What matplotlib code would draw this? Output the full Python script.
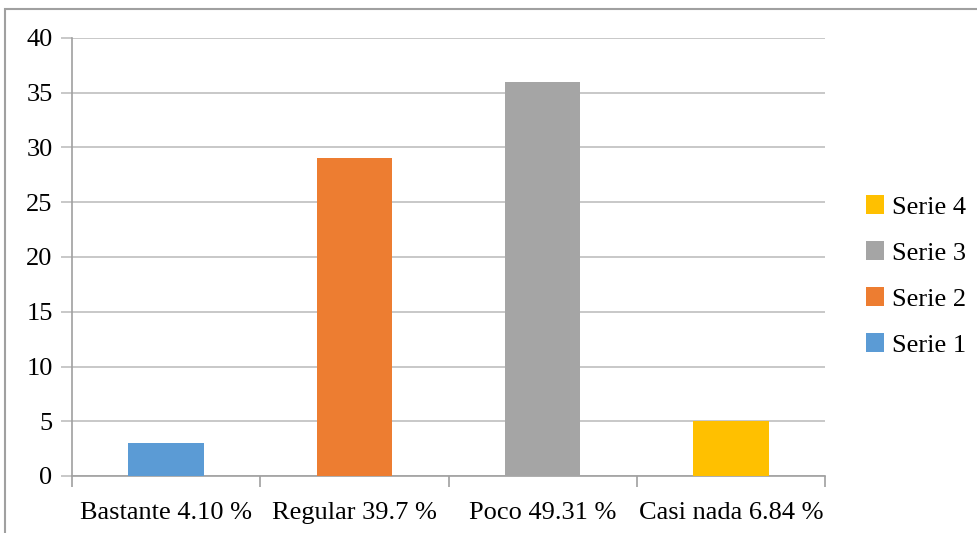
import matplotlib
matplotlib.use('Agg')
import matplotlib.pyplot as plt
from matplotlib.patches import Rectangle
import numpy as np

# data
categories = ['Bastante 4.10 %', 'Regular 39.7 %', 'Poco 49.31 %', 'Casi nada 6.84 %']
series_names = ['Serie 1', 'Serie 2', 'Serie 3', 'Serie 4']
values = [3, 29, 36, 5]
colors = ['#5B9BD5', '#ED7D31', '#A5A5A5', '#FFC000']
yticks = [0, 5, 10, 15, 20, 25, 30, 35, 40]

plt.rcParams['font.family'] = ['Liberation Serif', 'DejaVu Serif']

W, H = 977, 533
fig = plt.figure(figsize=(W / 100, H / 100), dpi=100)
ax = fig.add_axes([72 / W, 1 - 476 / H, (825 - 72) / W, (476 - 38) / H])

x = np.arange(len(categories))
for i in range(len(categories)):
    ax.bar(x[i], values[i], 0.4, color=colors[i], label=series_names[i], zorder=3)

ax.set_xlim(-0.5, len(categories) - 0.5)
ax.set_ylim(0, 40)
ax.set_yticks(yticks)
ax.yaxis.grid(True, color='#BFBFBF', linewidth=1.2, zorder=0)
ax.tick_params(axis='y', length=8, color='#BFBFBF', width=1.2, labelsize=19, pad=6)

# category labels centred, ticks at the boundaries
ax.set_xticks(np.arange(len(categories) + 1) - 0.5)
ax.set_xticklabels([])
ax.set_xticks(x, minor=True)
ax.set_xticklabels(categories, minor=True, fontsize=19)
ax.tick_params(axis='x', which='major', length=8, color='#A0A0A0', width=1.2)
ax.tick_params(axis='x', which='minor', length=0, pad=19)

for s in ['top', 'right']:
    ax.spines[s].set_visible(False)
ax.spines['left'].set_color('#A0A0A0')
ax.spines['bottom'].set_color('#A0A0A0')
ax.spines['left'].set_linewidth(1.2)
ax.spines['bottom'].set_linewidth(1.2)

handles, labels = ax.get_legend_handles_labels()
ax.legend(handles[::-1], labels[::-1], loc='center left', bbox_to_anchor=(842 / W, 1 - 276 / H),
          bbox_transform=fig.transFigure, frameon=False, fontsize=19,
          handlelength=0.7, handleheight=0.7, handletextpad=0.3, labelspacing=0.85)

# outer chart border (only top and left visible in the crop)
fig.add_artist(Rectangle((5 / W, -0.1), 1.2, 1 - 9 / H + 0.1, transform=fig.transFigure,
                         fill=False, edgecolor='#A0A0A0', linewidth=1.5))

fig.savefig('out.png', dpi=100)
